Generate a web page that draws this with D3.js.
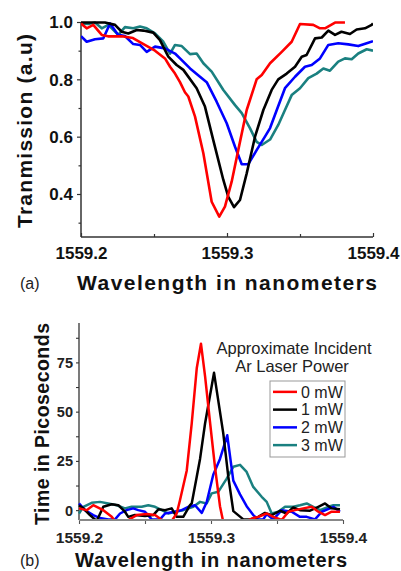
<!DOCTYPE html>
<html><head><meta charset="utf-8">
<script src="https://cdn.jsdelivr.net/npm/d3@7"></script>
<style>
html,body{margin:0;padding:0;background:#fff;}
svg{display:block;font-family:"Liberation Sans",Arial,sans-serif;}
</style></head>
<body>
<svg id="chart" width="401" height="571"></svg>
<script>
// ---------- DATA ----------
const seriesLabels = ["0 mW", "1 mW", "2 mW", "3 mW"];
const seriesColors = ["#ff0000", "#000000", "#0000ff", "#1a8080"];
const xTicksMajor = [1559.2, 1559.3, 1559.4];
const xTicksMinor = [1559.25, 1559.35];
const topYTicksMajor = [0.4, 0.6, 0.8, 1.0];
const topYTicksMinor = [0.3, 0.5, 0.7, 0.9];
const botYTicksMajor = [0, 25, 50, 75];
const botYTicksMinor = [12.5, 37.5, 62.5, 87.5];

// (a) transmission [wavelength nm, transmission a.u.]
const trans0mW = [[1559.2000,.995],[1559.2039,.978],[1559.2084,.99],[1559.2142,.955],[1559.2185,.95],[1559.2279,.95],[1559.2356,.944],[1559.2416,.926],[1559.2507,.90],[1559.2575,.873],[1559.2610,.844],[1559.2644,.82],[1559.2678,.79],[1559.2712,.755],[1559.2735,.74],[1559.2781,.67],[1559.2838,.542],[1559.2895,.373],[1559.2947,.321],[1559.2986,.356],[1559.3032,.443],[1559.3077,.553],[1559.3135,.693],[1559.3203,.80],[1559.3238,.815],[1559.3295,.856],[1559.3375,.896],[1559.3443,.931],[1559.3500,.993],[1559.3591,.99],[1559.3637,.978],[1559.3671,.978],[1559.3740,.998],[1559.3808,.998]];
const trans1mW = [[1559.2000,.998],[1559.2164,.998],[1559.2233,.99],[1559.2279,.966],[1559.2324,.96],[1559.2382,.972],[1559.2427,.97],[1559.2495,.963],[1559.2541,.937],[1559.2598,.879],[1559.2655,.85],[1559.2701,.833],[1559.2792,.769],[1559.2849,.705],[1559.2906,.588],[1559.2975,.449],[1559.3009,.39],[1559.3048,.354],[1559.3089,.379],[1559.3135,.472],[1559.3192,.60],[1559.3249,.693],[1559.3306,.763],[1559.3351,.80],[1559.3409,.82],[1559.3466,.844],[1559.3512,.879],[1559.3545,.885],[1559.3603,.943],[1559.3649,.946],[1559.3694,.97],[1559.3740,.955],[1559.3784,.966],[1559.3842,.958],[1559.3888,.974],[1559.3945,.978],[1559.3991,.99],[1559.4000,.995]];
const trans2mW = [[1559.2000,.951],[1559.2039,.931],[1559.2096,.94],[1559.2153,.943],[1559.2199,.995],[1559.2255,.955],[1559.2301,.951],[1559.2358,.923],[1559.2404,.92],[1559.2450,.896],[1559.2507,.914],[1559.2575,.908],[1559.2644,.89],[1559.2678,.873],[1559.2747,.838],[1559.2815,.809],[1559.2861,.79],[1559.2929,.722],[1559.2998,.647],[1559.3055,.565],[1559.3101,.504],[1559.3146,.504],[1559.3203,.553],[1559.3260,.60],[1559.3295,.63],[1559.3346,.70],[1559.3397,.769],[1559.3466,.809],[1559.3534,.844],[1559.3580,.85],[1559.3637,.873],[1559.3694,.92],[1559.3762,.926],[1559.3831,.922],[1559.3899,.916],[1559.3957,.926],[1559.4000,.933]];
const trans3mW = [[1559.2000,.995],[1559.2050,.993],[1559.2096,.998],[1559.2142,.978],[1559.2187,.99],[1559.2255,.955],[1559.2301,.982],[1559.2358,.978],[1559.2404,.984],[1559.2450,.978],[1559.2507,.96],[1559.2564,.931],[1559.2610,.89],[1559.2644,.92],[1559.2690,.916],[1559.2747,.888],[1559.2792,.89],[1559.2838,.856],[1559.2895,.827],[1559.2975,.763],[1559.3055,.71],[1559.3101,.682],[1559.3158,.629],[1559.3203,.582],[1559.3238,.571],[1559.3295,.59],[1559.3351,.641],[1559.3397,.693],[1559.3443,.745],[1559.3500,.769],[1559.3557,.804],[1559.3614,.82],[1559.3660,.838],[1559.3705,.83],[1559.3762,.862],[1559.3808,.873],[1559.3854,.87],[1559.3899,.89],[1559.3957,.905],[1559.4000,.90]];

// (b) delay [wavelength nm, time ps]
const delay0mW = [[1559.2000,0.9],[1559.2058,0],[1559.2108,2.5],[1559.2184,0],[1559.2248,-3.4],[1559.2273,-5.5],[1559.2310,-8],[1559.2361,-5.5],[1559.2437,-2.5],[1559.2513,-2],[1559.2576,-2.5],[1559.2639,-5.5],[1559.2670,-7],[1559.2702,-5.5],[1559.2740,-1.7],[1559.2765,5],[1559.2816,20],[1559.2854,44],[1559.2892,72],[1559.2924,84.5],[1559.2955,68],[1559.2992,45],[1559.3030,22],[1559.3068,2],[1559.3093,-6],[1559.3150,-9],[1559.3270,-5.5],[1559.3320,-4],[1559.3358,-3.4],[1559.3422,-1.7],[1559.3472,-3.4],[1559.3536,-5],[1559.3586,-0.8],[1559.3636,0],[1559.3699,0.9],[1559.3763,1.7],[1559.3813,-0.8],[1559.3864,-2.5],[1559.3914,-0.8],[1559.3977,-0.8]];
const delay1mW = [[1559.2000,2.5],[1559.2033,0.9],[1559.2083,-2.5],[1559.2134,-5.5],[1559.2184,1.7],[1559.2248,3],[1559.2298,2.5],[1559.2348,-0.8],[1559.2373,-3.4],[1559.2424,-2.5],[1559.2500,-3],[1559.2563,-2.5],[1559.2601,0.4],[1559.2652,0],[1559.2702,0.9],[1559.2740,-3.4],[1559.2790,-3.4],[1559.2841,2.5],[1559.2854,3.4],[1559.2892,17],[1559.2917,26],[1559.2955,44],[1559.3023,69.7],[1559.3093,39],[1559.3131,17],[1559.3169,-0.5],[1559.3245,-4.7],[1559.3295,-4.7],[1559.3358,-3.4],[1559.3409,-1.4],[1559.3460,-2.5],[1559.3523,-0.3],[1559.3573,-1.7],[1559.3623,1.4],[1559.3674,0],[1559.3750,-0.3],[1559.3813,1.7],[1559.3864,3.4],[1559.3914,0.9],[1559.3977,0.4]];
const delay2mW = [[1559.2000,3.4],[1559.2045,0],[1559.2108,-2.5],[1559.2159,-4],[1559.2222,-4.7],[1559.2273,-4.7],[1559.2311,-1.7],[1559.2361,0],[1559.2411,0.9],[1559.2449,0],[1559.2500,-0.8],[1559.2551,-4.7],[1559.2614,-4.7],[1559.2652,-1.7],[1559.2727,-0.8],[1559.2778,0],[1559.2828,1.7],[1559.2879,2.5],[1559.2930,-1.4],[1559.2967,4],[1559.3017,18],[1559.3068,26],[1559.3123,38],[1559.3169,15],[1559.3220,8],[1559.3270,2],[1559.3320,-2.5],[1559.3358,-4.7],[1559.3396,-4.7],[1559.3422,-2],[1559.3472,-4.7],[1559.3536,0],[1559.3611,-0.8],[1559.3674,-3.4],[1559.3725,-3.4],[1559.3788,-4.7],[1559.3839,-0.8],[1559.3927,1.7],[1559.3977,-0.8]];
const delay3mW = [[1559.2000,-1.7],[1559.2033,1.7],[1559.2096,3.7],[1559.2159,4.2],[1559.2222,3.4],[1559.2286,2.5],[1559.2348,0.9],[1559.2399,1.7],[1559.2475,1.7],[1559.2525,2.5],[1559.2576,1.7],[1559.2627,0],[1559.2677,-1.7],[1559.2727,-0.8],[1559.2790,0],[1559.2866,1.7],[1559.2917,4.2],[1559.2967,3.4],[1559.3005,8.5],[1559.3055,9.3],[1559.3119,16],[1559.3169,22],[1559.3220,23],[1559.3270,19.4],[1559.3320,11.8],[1559.3384,6.8],[1559.3422,4.2],[1559.3460,-1.7],[1559.3510,-0.8],[1559.3561,1.7],[1559.3623,1.7],[1559.3674,2.5],[1559.3725,3.4],[1559.3775,1.7],[1559.3826,0],[1559.3889,1.7],[1559.3927,2.5],[1559.3977,2.5]];

const transSeries = [trans0mW, trans1mW, trans2mW, trans3mW];
const delaySeries = [delay0mW, delay1mW, delay2mW, delay3mW];

// ---------- DRAW ----------
const svg = d3.select("#chart");
svg.append("rect").attr("width",401).attr("height",571).attr("fill","#fff");
const FONT = '"Liberation Sans",Arial,sans-serif';
const axisColor = "#333";

// ===== Panel (a) =====
const xA = d3.scaleLinear().domain([1559.2, 1559.4]).range([81, 373]);
const yA = d3.scaleLinear().domain([0.25, 1.0]).range([237, 22]);

svg.append("clipPath").attr("id","clipA").append("rect")
  .attr("x",81).attr("y",18).attr("width",292).attr("height",219);

const gA = svg.append("g");
gA.append("line").attr("x1",81).attr("x2",81).attr("y1",yA(1.0)).attr("y2",yA(0.25))
  .attr("stroke",axisColor).attr("stroke-width",1.5);
gA.append("line").attr("x1",xA(1559.2)).attr("x2",xA(1559.4)).attr("y1",237).attr("y2",237)
  .attr("stroke",axisColor).attr("stroke-width",1.5);

const yAxA = d3.axisLeft(yA).tickValues(topYTicksMajor).tickFormat(d3.format(".1f")).tickSize(4).tickPadding(4);
const gyA = gA.append("g").attr("transform","translate(81,0)").call(yAxA);
gyA.select(".domain").remove();
gyA.selectAll("line").attr("stroke",axisColor).attr("stroke-width",1.2);
gyA.selectAll("text").attr("font-family",FONT).attr("font-weight","bold").attr("font-size",17).attr("fill","#111").attr("dy","0.35em");
const yAxAm = d3.axisLeft(yA).tickValues(topYTicksMinor).tickFormat("").tickSize(2.5);
const gyAm = gA.append("g").attr("transform","translate(81,0)").call(yAxAm);
gyAm.select(".domain").remove();
gyAm.selectAll("line").attr("stroke",axisColor).attr("stroke-width",1.2);

const xAxA = d3.axisBottom(xA).tickValues(xTicksMajor).tickFormat(d3.format(".1f")).tickSize(-4).tickPadding(10);
const gxA = gA.append("g").attr("transform","translate(0,237)").call(xAxA);
gxA.select(".domain").remove();
gxA.selectAll("line").attr("stroke",axisColor).attr("stroke-width",1.2);
gxA.selectAll("text").attr("font-family",FONT).attr("font-weight","bold").attr("font-size",17).attr("fill","#111").attr("dy","0.71em");
const xAxAm = d3.axisBottom(xA).tickValues(xTicksMinor).tickFormat("").tickSize(-3);
const gxAm = gA.append("g").attr("transform","translate(0,237)").call(xAxAm);
gxAm.select(".domain").remove();
gxAm.selectAll("line").attr("stroke",axisColor).attr("stroke-width",1.2);

const lineA = d3.line().x(d => xA(d[0])).y(d => yA(d[1]));
const linesA = svg.append("g").attr("clip-path","url(#clipA)");
[3,2,1,0].forEach(i => {
  linesA.append("path").datum(transSeries[i]).attr("d", lineA)
    .attr("fill","none").attr("stroke",seriesColors[i]).attr("stroke-width",2.6)
    .attr("stroke-linejoin","round");
});

svg.append("text").attr("x",227).attr("y",290).attr("text-anchor","middle")
  .attr("font-family",FONT).attr("font-weight","bold").attr("font-size",21)
  .attr("textLength",300).attr("lengthAdjust","spacing").attr("fill","#111")
  .text("Wavelength in nanometers");
svg.append("text").attr("x",20).attr("y",289)
  .attr("font-family",FONT).attr("font-size",16).attr("fill","#222").text("(a)");
svg.append("text").attr("transform","translate(32,131) rotate(-90)").attr("text-anchor","middle")
  .attr("font-family",FONT).attr("font-weight","bold").attr("font-size",21)
  .attr("textLength",194).attr("lengthAdjust","spacing").attr("fill","#111")
  .text("Tranmission (a.u)");

// ===== Panel (b) =====
const xB = d3.scaleLinear().domain([1559.2, 1559.4]).range([79, 343]);
const yB = d3.scaleLinear().domain([-5, 95]).range([520, 323]);

svg.append("clipPath").attr("id","clipB").append("rect")
  .attr("x",72).attr("y",323).attr("width",275).attr("height",198);

const gB = svg.append("g");
const yAxB = d3.axisLeft(yB).tickValues(botYTicksMajor).tickFormat(d3.format("d")).tickSize(3).tickPadding(3);
const gyB = gB.append("g").attr("transform","translate(79,0)").call(yAxB);
gyB.select(".domain").remove();
gyB.selectAll("line").attr("stroke",axisColor).attr("stroke-width",1.1);
gyB.selectAll("text").attr("font-family",FONT).attr("font-weight","bold").attr("font-size",14.5).attr("fill","#222").attr("dy","0.35em");
const yAxBm = d3.axisLeft(yB).tickValues(botYTicksMinor).tickFormat("").tickSize(3);
const gyBm = gB.append("g").attr("transform","translate(79,0)").call(yAxBm);
gyBm.select(".domain").remove();
gyBm.selectAll("line").attr("stroke",axisColor).attr("stroke-width",1.1);

const xAxB = d3.axisBottom(xB).tickValues(xTicksMajor).tickFormat(d3.format(".1f")).tickSize(4).tickPadding(8);
const gxB = gB.append("g").attr("transform","translate(0,520)").call(xAxB);
gxB.select(".domain").remove();
gxB.selectAll("line").attr("stroke","#555").attr("stroke-width",1.1);
gxB.selectAll("text").attr("font-family",FONT).attr("font-weight","bold").attr("font-size",15.5).attr("fill","#222").attr("dy","0.71em");
const xAxBm = d3.axisBottom(xB).tickValues(xTicksMinor).tickFormat("").tickSize(4);
const gxBm = gB.append("g").attr("transform","translate(0,520)").call(xAxBm);
gxBm.select(".domain").remove();
gxBm.selectAll("line").attr("stroke","#555").attr("stroke-width",1.1);

const lineB = d3.line().x(d => xB(d[0])).y(d => yB(d[1]));
const linesB = svg.append("g").attr("clip-path","url(#clipB)");
[3,2,1,0].forEach(i => {
  linesB.append("path").datum(delaySeries[i]).attr("d", lineB)
    .attr("fill","none").attr("stroke",seriesColors[i]).attr("stroke-width",2.5)
    .attr("stroke-linejoin","round");
});

gB.append("line").attr("x1",79).attr("x2",79).attr("y1",yB(95)).attr("y2",yB(-5))
  .attr("stroke",axisColor).attr("stroke-width",1.3);
svg.append("line").attr("x1",xB(1559.2)).attr("x2",xB(1559.4)).attr("y1",520).attr("y2",520)
  .attr("stroke","#888").attr("stroke-width",2);

// legend (b)
svg.append("text").attr("x",294).attr("y",354).attr("text-anchor","middle")
  .attr("font-family",FONT).attr("font-size",16.5).attr("fill","#222").text("Approximate Incident");
svg.append("text").attr("x",292).attr("y",372).attr("text-anchor","middle")
  .attr("font-family",FONT).attr("font-size",16.5).attr("fill","#222").text("Ar Laser Power");
svg.append("rect").attr("x",270).attr("y",381).attr("width",75).attr("height",76)
  .attr("fill","#fff").attr("stroke","#999").attr("stroke-width",1);
const legY = d3.scaleBand().domain(seriesLabels).range([383, 454]);
seriesLabels.forEach((lab,i) => {
  const cy = legY(lab) + legY.bandwidth()/2;
  svg.append("line").attr("x1",273).attr("x2",297).attr("y1",cy).attr("y2",cy)
    .attr("stroke",seriesColors[i]).attr("stroke-width",2.5);
  svg.append("text").attr("x",301).attr("y",cy).attr("dy","0.36em")
    .attr("font-family",FONT).attr("font-size",16).attr("fill","#222").text(lab);
});

svg.append("text").attr("x",211).attr("y",567).attr("text-anchor","middle")
  .attr("font-family",FONT).attr("font-weight","bold").attr("font-size",20)
  .attr("textLength",272).attr("lengthAdjust","spacing").attr("fill","#111")
  .text("Wavelength in nanometers");
svg.append("text").attr("x",20).attr("y",566)
  .attr("font-family",FONT).attr("font-size",16).attr("fill","#222").text("(b)");
svg.append("text").attr("transform","translate(49,424) rotate(-90)").attr("text-anchor","middle")
  .attr("font-family",FONT).attr("font-weight","bold").attr("font-size",19.5)
  .attr("textLength",202).attr("lengthAdjust","spacing").attr("fill","#111")
  .text("Time in Picoseconds");
</script>
</body></html>
